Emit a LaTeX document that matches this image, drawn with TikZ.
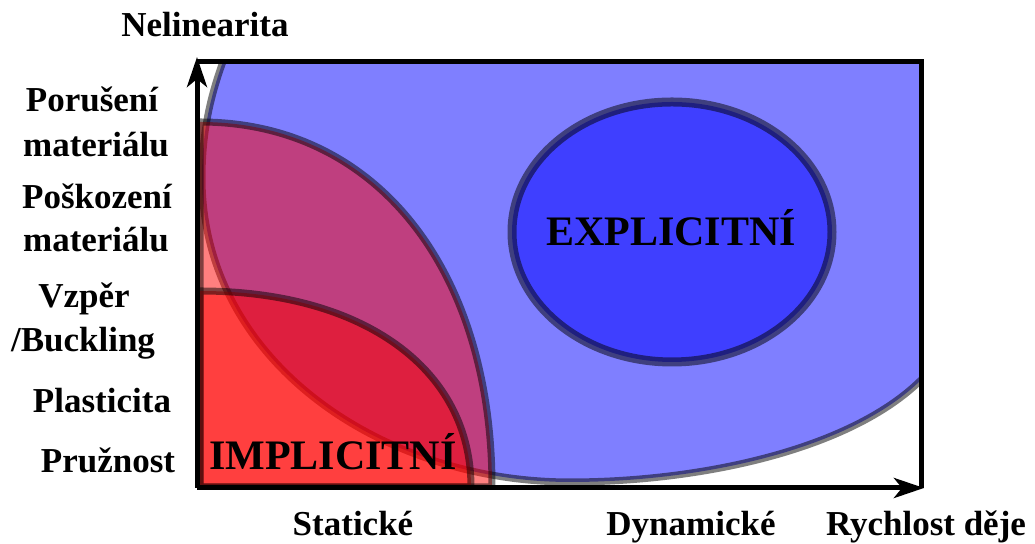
\documentclass[tikz,border=0pt]{standalone}
\usepackage{fontspec}
\setmainfont{Liberation Serif}
\usetikzlibrary{arrows.meta}

\begin{document}
\begin{tikzpicture}[
  x=0.5pt,
  y=0.5pt,
  >={Stealth[length=15pt, width=10pt, inset=4pt]},
  zone/.style={draw=black, draw opacity=0.5, line width=3.5pt, fill opacity=0.5},
  axis/.style={line width=2.5pt},
  lab/.style={font=\fontsize{17.5}{21}\selectfont\bfseries, anchor=base, inner sep=0pt},
  big/.style={font=\fontsize{21}{25}\selectfont\bfseries, anchor=base, inner sep=0pt}
]
  \useasboundingbox (0,0) rectangle (1035,544);
  \coordinate (o) at (197,56);
  \coordinate (ytop) at (197,487);
  \coordinate (xend) at (924,56);
  \coordinate (tl) at (197,482);
  \coordinate (tr) at (921,482);
  \coordinate (br) at (921,56);

  \begin{scope}
    \clip (o) rectangle (tr);
    % dynamicke oblasti
    \draw[zone, fill=blue] (250,544) .. controls (215,474) and (202,424) .. (202,366)
      .. controls (202,184) and (380,62) .. (570,62)
      .. controls (700,62) and (850,94) .. (921,164)
      -- (960,204) -- (1000,544) -- cycle;
    \draw[zone, fill=blue, line width=4.5pt] (672,312) ellipse [x radius=160, y radius=130];
    % staticke oblasti
    \draw[zone, fill=red] (200,57) -- (200,422)
      .. controls (375,422) and (492,276) .. (492,57) -- cycle;
    \draw[zone, fill=red] (200,57) -- (200,253)
      .. controls (363,253) and (471,175) .. (471,57) -- cycle;
  \end{scope}

  % osy a ramecek
  \draw[axis] (tl) -- (tr) -- (br);
  \draw[axis, ->] (o) -- (ytop);
  \draw[axis, ->] (o) -- (xend);

  % popisky
  \node[lab] (nelin) at (205,507) {Nelinearita};
  \node[lab] (por1) at (92,432) {Porušení};
  \node[lab] (por2) at (96,387) {materiálu};
  \node[lab] (pos1) at (97,335) {Poškození};
  \node[lab] (pos2) at (96,292) {materiálu};
  \node[lab] (vzp1) at (84,236) {Vzpěr};
  \node[lab] (vzp2) at (83,192) {/Buckling};
  \node[lab] (plast) at (102,131) {Plasticita};
  \node[lab] (pruz) at (108,71) {Pružnost};
  \node[lab] (stat) at (353,8) {Statické};
  \node[lab] (dyn) at (691,8) {Dynamické};
  \node[lab] (rych) at (926,8) {Rychlost děje};
  \node[big] (impl) at (333,74) {IMPLICITNÍ};
  \node[big] (expl) at (671,298) {EXPLICITNÍ};
\end{tikzpicture}
\end{document}
